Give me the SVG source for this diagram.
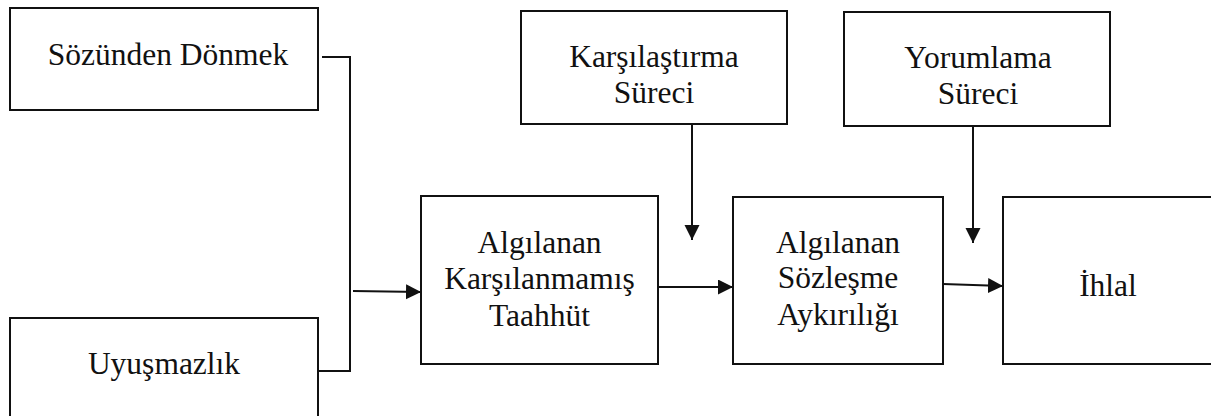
<svg xmlns="http://www.w3.org/2000/svg" width="1211" height="416" viewBox="0 0 1211 416">
<style>
.box{fill:#fff;stroke:#111;stroke-width:2}
.t{font-family:"Liberation Serif","Times New Roman",serif;font-size:31.5px;fill:#111;text-anchor:middle}
.c{fill:none;stroke:#111;stroke-width:2}
</style>
<defs>
<marker id="ah" markerUnits="userSpaceOnUse" markerWidth="16" markerHeight="16" refX="15" refY="7.5" orient="auto">
<path d="M0,0 L15,7.5 L0,15 z" fill="#111"/>
</marker>
</defs>
<rect width="1211" height="416" fill="#fff"/>
<g id="n-sozunden">
<rect class="box" x="10" y="8" width="308" height="102"/>
<text class="t" x="168" y="65">Sözünden Dönmek</text>
</g>
<g id="n-uyusmazlik">
<rect class="box" x="10" y="318" width="308" height="110"/>
<text class="t" x="164" y="374">Uyuşmazlık</text>
</g>
<g id="n-taahhut">
<rect class="box" x="421" y="196" width="237" height="168"/>
<text class="t" x="539.5" y="253">Algılanan</text>
<text class="t" x="539.5" y="289">Karşılanmamış</text>
<text class="t" x="539.5" y="326">Taahhüt</text>
</g>
<g id="n-karsilastirma">
<rect class="box" x="521" y="11" width="266" height="113"/>
<text class="t" x="654" y="67">Karşılaştırma</text>
<text class="t" x="654" y="103">Süreci</text>
</g>
<g id="n-sozlesme">
<rect class="box" x="733" y="197" width="210" height="167"/>
<text class="t" x="838" y="253">Algılanan</text>
<text class="t" x="838" y="288">Sözleşme</text>
<text class="t" x="838" y="325">Aykırılığı</text>
</g>
<g id="n-yorumlama">
<rect class="box" x="844" y="12" width="266" height="114"/>
<text class="t" x="978" y="68">Yorumlama</text>
<text class="t" x="978" y="104">Süreci</text>
</g>
<g id="n-ihlal">
<rect class="box" x="1003" y="197" width="220" height="167"/>
<text class="t" x="1108" y="296">İhlal</text>
</g>
<g id="connectors">
<path class="c" d="M322,57 H350 V371 H318"/>
<path class="c" d="M353,291 L421,292" marker-end="url(#ah)"/>
<path class="c" d="M658,287 H733" marker-end="url(#ah)"/>
<path class="c" d="M943,284 L1003,286" marker-end="url(#ah)"/>
<path class="c" d="M692,125 V240" marker-end="url(#ah)"/>
<path class="c" d="M973,126 V243" marker-end="url(#ah)"/>
</g>
</svg>
